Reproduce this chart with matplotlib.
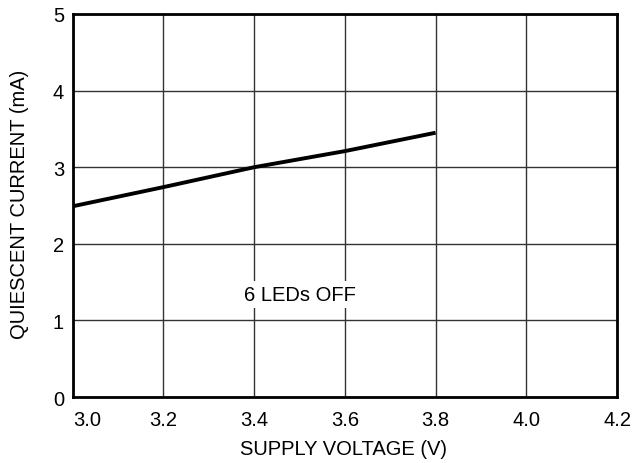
import numpy as np
import matplotlib
matplotlib.use('Agg')
import matplotlib.pyplot as plt

plt.rcParams['font.family'] = ['Liberation Sans', 'DejaVu Sans']

# data
supply_v = [3.0, 3.2, 3.4, 3.6, 3.8]
quiescent_ma = [2.49, 2.74, 3.00, 3.21, 3.45]
x_ticks = [3.0, 3.2, 3.4, 3.6, 3.8, 4.0, 4.2]
y_ticks = [0, 1, 2, 3, 4, 5]

FS = 14.5

fig = plt.figure(figsize=(6.39, 4.64), dpi=100, facecolor='white')
ax = fig.add_axes([0.1138, 0.1422, 0.8518, 0.8255])

ax.plot(supply_v, quiescent_ma, color='black', linewidth=2.8, solid_capstyle='butt', zorder=3)

ax.set_xlim(3.0, 4.2)
ax.set_ylim(0, 5)
ax.set_xticks(x_ticks)
ax.set_xticklabels([f"{v:.1f}" for v in x_ticks])
ax.set_yticks(y_ticks)
ax.grid(True, color='#333333', linewidth=1.0)
ax.tick_params(length=0, labelsize=FS)
ax.tick_params(axis='x', pad=9.4)
ax.tick_params(axis='y', pad=6.3)
# first x label sits inside the frame
ax.get_xticklabels()[0].set_ha('left')
for s in ax.spines.values():
    s.set_linewidth(2.0)
    s.set_color('black')

ax.set_xlabel('SUPPLY VOLTAGE (V)', fontsize=FS, va='baseline')
ax.xaxis.set_label_coords(0.497, -0.149)
ax.set_ylabel('QUIESCENT CURRENT (mA)', fontsize=FS, va='center')
ax.yaxis.set_label_coords(-0.097, 0.505)

ax.text(3.5, 1.34, '6 LEDs OFF', fontsize=FS, ha='center', va='center',
        bbox=dict(facecolor='white', edgecolor='none', pad=3), zorder=4)

fig.savefig('out.png', dpi=100, facecolor='white')
